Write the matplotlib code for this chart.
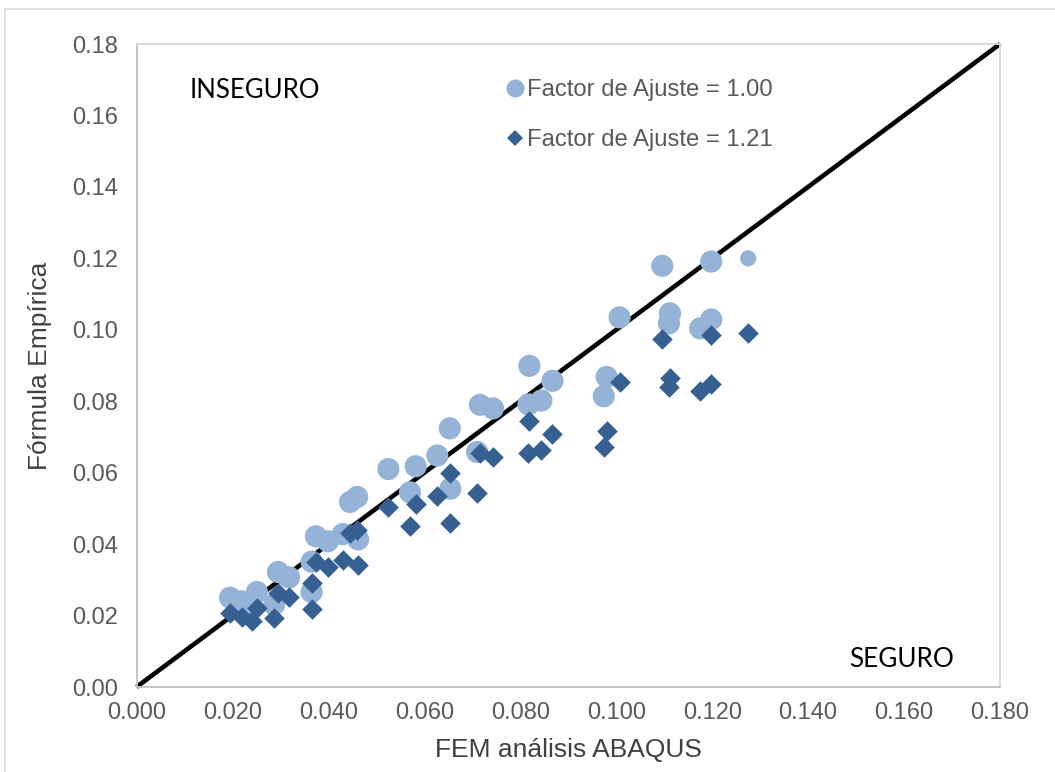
import numpy as np
import matplotlib
matplotlib.use("Agg")
import matplotlib.pyplot as plt
from matplotlib.lines import Line2D
from matplotlib.patches import Rectangle

# FEM (ABAQUS) results on the x axis
fem_abaqus = [0.0195, 0.0219, 0.0240, 0.0251, 0.0287, 0.0295, 0.0318, 0.0365,
              0.0365, 0.0374, 0.0399, 0.0430, 0.0445, 0.0460, 0.0462, 0.0525,
              0.0570, 0.0582, 0.0627, 0.0653, 0.0654, 0.0710, 0.0716, 0.0743,
              0.0819, 0.0817, 0.0844, 0.0867, 0.0974, 0.0980, 0.1007, 0.1096,
              0.1112, 0.1110, 0.1175, 0.1198, 0.1198, 0.1275]

# Empirical formula, adjustment factor 1.00
empirica_100 = [0.0250, 0.0240, 0.0222, 0.0266, 0.0231, 0.0322, 0.0307, 0.0351,
                0.0266, 0.0422, 0.0408, 0.0428, 0.0518, 0.0532, 0.0413, 0.0610,
                0.0545, 0.0618, 0.0648, 0.0724, 0.0555, 0.0658, 0.0790, 0.0780,
                0.0899, 0.0791, 0.0802, 0.0857, 0.0814, 0.0868, 0.1035, 0.1179,
                0.1046, 0.1018, 0.1004, 0.1029, 0.1191, 0.1200]

# Empirical formula, adjustment factor 1.21
empirica_121 = [0.0206, 0.0197, 0.0184, 0.0221, 0.0192, 0.0263, 0.0253, 0.0290,
                0.0219, 0.0350, 0.0336, 0.0356, 0.0431, 0.0440, 0.0342, 0.0505,
                0.0450, 0.0512, 0.0536, 0.0600, 0.0459, 0.0543, 0.0655, 0.0645,
                0.0744, 0.0655, 0.0663, 0.0708, 0.0672, 0.0718, 0.0855, 0.0974,
                0.0866, 0.0841, 0.0829, 0.0849, 0.0984, 0.0992]

label_100 = "Factor de Ajuste = 1.00"
label_121 = "Factor de Ajuste = 1.21"
x_ticks = [0.000, 0.020, 0.040, 0.060, 0.080, 0.100, 0.120, 0.140, 0.160, 0.180]
y_ticks = [0.00, 0.02, 0.04, 0.06, 0.08, 0.10, 0.12, 0.14, 0.16, 0.18]
identity = [0.0, 0.18]

LIGHT = "#95B3D7"
DARK = "#366092"
GREY_TXT = "#595959"

plt.rcParams['font.family'] = ['Liberation Sans', 'DejaVu Sans']

fig = plt.figure(figsize=(10.55, 7.72), dpi=100)
fig.patch.set_facecolor("white")

# outer chart frame
fig.add_artist(Rectangle((5 / 1055, -0.02), 1.1, 1 - 9 / 772 + 0.02,
                         transform=fig.transFigure, fill=False,
                         edgecolor="#D9D9D9", linewidth=1.2))

ax = fig.add_axes([136.5 / 1055, 1 - 687 / 772, (1000 - 136.5) / 1055, (687 - 44) / 772])

# 1:1 reference line
ax.plot(identity, identity, color="black", linewidth=3.3, zorder=2,
        clip_on=False, solid_capstyle="butt")

sizes = np.full(len(fem_abaqus), 255.0)
sizes[-1] = 135.0
ax.scatter(fem_abaqus, empirica_100, s=sizes, marker="o", color=LIGHT,
           linewidths=0, zorder=3)
ax.scatter(fem_abaqus, empirica_121, s=110, marker="D", color=DARK,
           linewidths=0, zorder=4)

ax.set_xlim(0, 0.18)
ax.set_ylim(0, 0.18)
ax.set_xticks(x_ticks)
ax.set_yticks(y_ticks)
ax.set_xticklabels([f"{v:.3f}" for v in x_ticks])
ax.set_yticklabels([f"{v:.2f}" for v in y_ticks])
ax.tick_params(axis="both", length=0, labelsize=17, labelcolor=GREY_TXT)
ax.tick_params(axis="x", pad=11)
ax.tick_params(axis="y", pad=13)

for side in ("left", "bottom"):
    ax.spines[side].set_color("#BFBFBF")
    ax.spines[side].set_linewidth(1.3)
for side in ("top", "right"):
    ax.spines[side].set_color("#D9D9D9")
    ax.spines[side].set_linewidth(1.3)

ax.set_xlabel("FEM análisis ABAQUS", fontsize=19, color="#404040", labelpad=10)
ax.set_ylabel("Fórmula Empírica", fontsize=19, color="#404040", labelpad=15)

ax.text(0.0111, 0.1670, "INSEGURO", fontsize=18.5, color="black",
        family=["Lato", "DejaVu Sans"], va="center", ha="left")
ax.text(0.1485, 0.0077, "SEGURO", fontsize=18.8, color="black",
        family=["Lato", "DejaVu Sans"], va="center", ha="left")

handles = [
    Line2D([], [], marker="o", linestyle="none", markersize=13,
           markerfacecolor=LIGHT, markeredgewidth=0),
    Line2D([], [], marker="D", linestyle="none", markersize=8,
           markerfacecolor=DARK, markeredgewidth=0),
]
leg = ax.legend(handles, [label_100, label_121], loc="upper left",
                bbox_to_anchor=(505 / 1055, 1 - 79 / 772),
                bbox_transform=fig.transFigure, frameon=False,
                fontsize=17.2, handlelength=0.8, handletextpad=0.12,
                labelspacing=1.18, borderaxespad=0, borderpad=0)
for t in leg.get_texts():
    t.set_color(GREY_TXT)

fig.savefig("out.png", dpi=100, facecolor="white")
